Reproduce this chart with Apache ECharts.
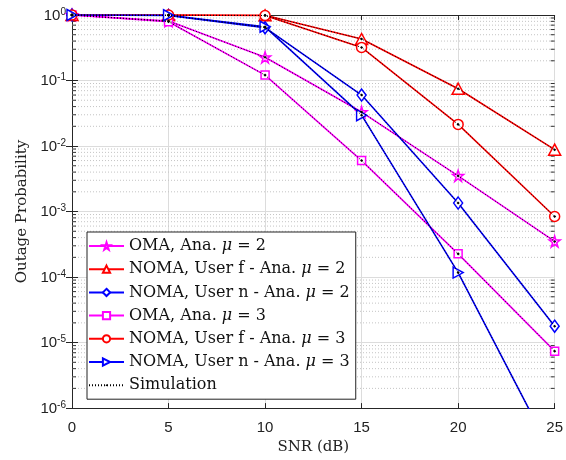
<!DOCTYPE html>
<html>
<head>
<meta charset="utf-8">
<script src="https://cdn.jsdelivr.net/npm/echarts@6/dist/echarts.min.js"></script>
<style>html,body{margin:0;padding:0;background:#fff}#c{width:566px;height:460px}</style>
</head>
<body>
<div id="c"></div>
<script>
// ---- data ----
var snr = [0, 5, 10, 15, 20, 25];
var omaMu2   = [1, 0.81, 0.226, 0.033, 0.0035, 3.5e-4];
var nomaFMu2 = [1, 1, 0.99, 0.43, 0.075, 0.0088];
var nomaNMu2 = [1, 0.98, 0.64, 0.06, 0.00135, 1.78e-5];
var omaMu3   = [1, 0.79, 0.121, 0.006, 2.26e-4, 7.4e-6];
var nomaFMu3 = [1, 1, 0.98, 0.32, 0.0214, 8.4e-4];
var nomaNMu3 = [1, 0.99, 0.66, 0.0296, 1.17e-4, 1.7e-7];
var seriesNames = [
  'OMA, Ana. {i|μ} = 2',
  'NOMA, User f - Ana. {i|μ} = 2',
  'NOMA, User n - Ana. {i|μ} = 2',
  'OMA, Ana. {i|μ} = 3',
  'NOMA, User f - Ana. {i|μ} = 3',
  'NOMA, User n - Ana. {i|μ} = 3'
];
var simName = 'Simulation';
var xTicks = [0, 5, 10, 15, 20, 25];
var yDecades = [-6, -5, -4, -3, -2, -1, 0];

// ---- styling ----
var MAG = '#ff00ff', RED = '#ff0000', BLUE = '#0000ff';
var STAR = 'path://M50,2 L61,37 L98,37 L68,59 L79,94 L50,72 L21,94 L32,59 L2,37 L39,37 Z';
var RTRI = 'path://M0,0 L10,5 L0,10 Z';
var DOT = 'path://M0,0 M10,10 M3.6,5 L5,3.6 L6.4,5 L5,6.4 Z';
var allData = [omaMu2, nomaFMu2, nomaNMu2, omaMu3, nomaFMu3, nomaNMu3];
var colors = [MAG, RED, BLUE, MAG, RED, BLUE];
var symbols = [STAR, 'triangle', 'diamond', 'rect', 'circle', RTRI];
var sizes = [[11, 11], [12, 11], [9, 12], [8, 8], [10, 10], [10, 11]];

function pairs(arr) { return snr.map(function (x, i) { return [x, arr[i]]; }); }

// minor grid values (2..9 x 10^k)
var minorVals = [];
yDecades.slice(0, -1).forEach(function (k) {
  for (var m = 2; m <= 9; m++) minorVals.push([0, m * Math.pow(10, k)]);
});

var series = [];
series.push({
  type: 'custom', name: '_minor', silent: true, z: 1, clip: true,
  data: minorVals,
  renderItem: function (params, api) {
    var v = api.value(1);
    var a = api.coord([0, v]), b = api.coord([25, v]);
    return {
      type: 'group', children: [
        { type: 'line', shape: { x1: a[0], y1: a[1], x2: b[0], y2: b[1] },
          style: { stroke: '#c4c4c4', lineWidth: 1, lineDash: [1, 2] } },
        { type: 'line', shape: { x1: a[0], y1: a[1], x2: a[0] + 4, y2: a[1] },
          style: { stroke: '#333', lineWidth: 1 } },
        { type: 'line', shape: { x1: b[0], y1: b[1], x2: b[0] - 4, y2: b[1] },
          style: { stroke: '#333', lineWidth: 1 } }
      ]
    };
  }
});
allData.forEach(function (d, i) {
  series.push({
    type: 'line', name: seriesNames[i], data: pairs(d), z: 3,
    symbol: symbols[i], symbolSize: sizes[i], showAllSymbol: true,
    lineStyle: { color: colors[i], width: 1.6 },
    itemStyle: { color: '#ffffff', borderColor: colors[i], borderWidth: 1.5 },
    emphasis: { disabled: true }
  });
});
allData.forEach(function (d) {
  series.push({
    type: 'line', name: simName, data: pairs(d), z: 4,
    symbol: DOT, symbolSize: 11,
    lineStyle: { color: '#000', width: 1, type: [1, 2] },
    itemStyle: { color: '#000' },
    emphasis: { disabled: true }
  });
});

var axisLineStyle = { color: '#262626', width: 1 };
var SERIF = 'DejaVu Serif';
var option = {
  animation: false,
  backgroundColor: '#fff',
  grid: { left: 72, right: 10, top: 15, bottom: 48 },
  xAxis: [{
    type: 'value', min: 0, max: 25, interval: 5,
    name: 'SNR (dB)', nameLocation: 'middle', nameGap: 28,
    nameTextStyle: { fontFamily: SERIF, fontSize: 15, color: '#222' },
    axisLine: { lineStyle: axisLineStyle },
    axisTick: { inside: true, length: 5, lineStyle: axisLineStyle },
    axisLabel: { fontFamily: 'Liberation Sans', fontSize: 15, color: '#222', margin: 12,
      formatter: function (v) { return xTicks.indexOf(v) >= 0 ? String(v) : ''; } },
    splitLine: { show: true, lineStyle: { color: '#dcdcdc', width: 1 } }
  }, {
    type: 'value', min: 0, max: 25, interval: 5, position: 'top',
    axisLine: { show: true, lineStyle: axisLineStyle },
    axisTick: { show: true, inside: true, length: 5, lineStyle: axisLineStyle },
    axisLabel: { show: false }, splitLine: { show: false }
  }],
  yAxis: [{
    type: 'log', logBase: 10, min: 1e-6, max: 1,
    name: 'Outage Probability', nameLocation: 'middle', nameGap: 42,
    nameTextStyle: { fontFamily: SERIF, fontSize: 15, color: '#222' },
    axisLine: { show: true, lineStyle: axisLineStyle },
    axisTick: { show: true, inside: true, length: 6, lineStyle: axisLineStyle },
    axisLabel: {
      margin: 6, color: '#222',
      formatter: function (v) {
        var e = Math.round(Math.log10(v));
        return '{b|10}{s|' + e + '}';
      },
      rich: {
        b: { fontFamily: 'Liberation Sans', fontSize: 15, color: '#222', verticalAlign: 'bottom', lineHeight: 16 },
        s: { fontFamily: 'Liberation Sans', fontSize: 10, color: '#222', verticalAlign: 'top', lineHeight: 16, padding: [0, 0, 8, 0] }
      }
    },
    splitLine: { show: true, lineStyle: { color: '#dcdcdc', width: 1 } }
  }, {
    type: 'log', logBase: 10, min: 1e-6, max: 1, position: 'right',
    axisLine: { show: true, lineStyle: axisLineStyle },
    axisTick: { show: true, inside: true, length: 6, lineStyle: axisLineStyle },
    axisLabel: { show: false }, splitLine: { show: false }
  }],
  legend: {
    orient: 'vertical', left: 87, top: 232,
    data: seriesNames.concat([simName]),
    backgroundColor: '#fff', borderColor: '#222', borderWidth: 1,
    padding: [5, 6, 5, 1],
    itemWidth: 35, itemHeight: 9, itemGap: 5.2,
    selectedMode: false,
    textStyle: {
      fontFamily: SERIF, fontSize: 16, color: '#111', lineHeight: 18,
      rich: { i: { fontFamily: SERIF, fontStyle: 'italic', fontSize: 16, lineHeight: 18 } }
    }
  },
  series: series
};
echarts.init(document.getElementById('c'), null, { renderer: 'canvas' }).setOption(option);
</script>
</body>
</html>
